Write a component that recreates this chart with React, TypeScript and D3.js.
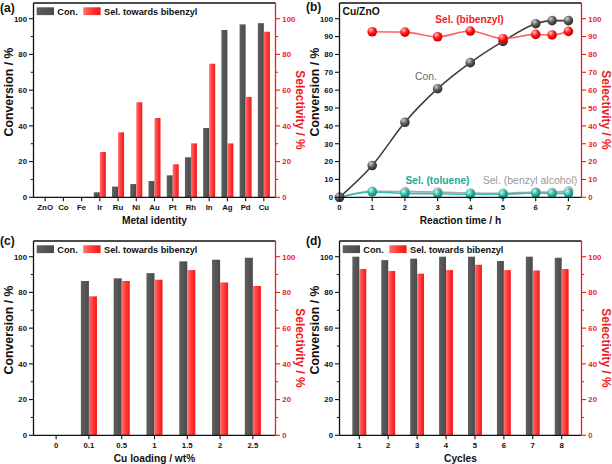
import React from 'react';
import * as d3 from 'd3';

// ---------- data ----------
const metals = ['ZnO', 'Co', 'Fe', 'Ir', 'Ru', 'Ni', 'Au', 'Pt', 'Rh', 'In', 'Ag', 'Pd', 'Cu'];
const metalCon = [0, 0, 0, 2.8, 6.0, 7.4, 9.1, 12.3, 22.4, 38.8, 93.7, 96.8, 97.5];
const metalSel = [0, 0, 0, 25.4, 36.4, 53.2, 44.4, 18.5, 30.2, 74.8, 30.2, 56.2, 92.7];

const times = [0, 1, 2, 3, 4, 5, 6, 6.5, 7];
const timeCon = [0, 17.8, 42.0, 60.8, 75.4, 87.3, 97.2, 98.9, 98.9];
const selTimes = [1, 2, 3, 4, 5, 6, 6.5, 7];
const timeSelBibenzyl = [92.7, 92.5, 89.9, 93.1, 88.8, 91.2, 90.9, 92.9];
const timeSelToluene = [0, 3.0, 2.2, 2.0, 1.7, 1.7, 2.4, 2.1, 2.2];
const timeSelAlcohol = [0, 3.3, 3.2, 3.0, 2.4, 2.2, 3.0, 2.8, 3.6];
const timeTicks = [0, 1, 2, 3, 4, 5, 6, 7];

const loadings = ['0', '0.1', '0.5', '1', '1.5', '2', '2.5'];
const loadCon = [0, 86.4, 87.9, 90.8, 97.4, 98.3, 99.4];
const loadSel = [0, 77.8, 86.4, 87.1, 92.5, 85.6, 83.6];

const cycles = ['1', '2', '3', '4', '5', '6', '7', '8'];
const cycleCon = [100, 98.1, 98.9, 100, 100, 97.6, 100, 99.4];
const cycleSel = [93.1, 92.0, 90.5, 92.5, 95.5, 92.5, 92.3, 93.1];

const barTicks = [0, 20, 40, 60, 80, 100];
const barMinor = [10, 30, 50, 70, 90];
const lineTicks = [0, 10, 20, 30, 40, 50, 60, 70, 80, 90, 100];

// ---------- style ----------
const FONT = "'Liberation Sans', Arial, sans-serif";
const RED = '#ee1c25';
const BLACK = '#111';

function Frame({ L, R, T, B }: any) {
  return (
    <g strokeWidth={1.3} fill="none">
      <line x1={L} x2={R} y1={T} y2={T} stroke={BLACK} />
      <line x1={L} x2={R} y1={B} y2={B} stroke={BLACK} />
      <line x1={L} x2={L} y1={T} y2={B} stroke={BLACK} />
      <line x1={R} x2={R} y1={T} y2={B} stroke={RED} />
    </g>
  );
}

function YAxes({ L, R, y, ticks, minor }: any) {
  return (
    <g fontFamily={FONT} fontWeight="bold" fontSize={7.8}>
      {ticks.map((t: number) => (
        <g key={'l' + t}>
          <line x1={L - 4.5} x2={L} y1={y(t)} y2={y(t)} stroke={BLACK} strokeWidth={1.1} />
          <text x={L - 6.5} y={y(t) + 2.8} textAnchor="end" fill={BLACK}>{t}</text>
          <line x1={R} x2={R + 4.5} y1={y(t)} y2={y(t)} stroke={RED} strokeWidth={1.1} />
          <text x={R + 6.8} y={y(t) + 2.8} textAnchor="start" fill={RED}>{t}</text>
        </g>
      ))}
      {minor.map((t: number) => (
        <g key={'m' + t}>
          <line x1={L - 2.7} x2={L} y1={y(t)} y2={y(t)} stroke={BLACK} strokeWidth={1} />
          <line x1={R} x2={R + 2.7} y1={y(t)} y2={y(t)} stroke={RED} strokeWidth={1} />
        </g>
      ))}
    </g>
  );
}

function Titles({ ox, oy, xTitle, label, labelY }: any) {
  return (
    <g fontFamily={FONT} fontWeight="bold">
      <text x={ox} y={labelY} fontSize={12} fill={BLACK}>{label}</text>
      <text transform={`translate(${ox + 13.4},${oy + 92}) rotate(-90)`} textAnchor="middle" fontSize={12.3} fill={BLACK}>Conversion / %</text>
      <text transform={`translate(${ox + 296.3},${oy + 110}) rotate(90)`} textAnchor="middle" fontSize={11.9} fill={RED}>Selectivity / %</text>
      <text x={ox + 154.5} y={oy + 223.5} textAnchor="middle" fontSize={10.2} fill={BLACK}>{xTitle}</text>
    </g>
  );
}

function Legend({ ox, oy }: any) {
  return (
    <g fontFamily={FONT} fontWeight="bold" fontSize={9.2} fill={BLACK}>
      <rect x={ox + 36.7} y={oy + 7.3} width={17.3} height={7.8} fill="url(#grayBar)" />
      <text x={ox + 57.3} y={oy + 14.6}>Con.</text>
      <rect x={ox + 83.3} y={oy + 7.3} width={17.3} height={7.8} fill="url(#redBar)" />
      <text x={ox + 104} y={oy + 14.6}>Sel. towards bibenzyl</text>
    </g>
  );
}

function BarPanel({ ox, oy, label, labelY, cats, con, sel, pad, barFrac, xTitle }: any) {
  const L = ox + 33.5, R = ox + 275.5, T = oy + 3, B = oy + 197.3;
  const x = d3.scaleLinear().domain([-pad, cats.length - 1 + pad]).range([L, R]);
  const y = d3.scaleLinear().domain([0, 100]).range([B, oy + 18.7]);
  const bw = (x(1) - x(0)) * barFrac;
  return (
    <g>
      {cats.map((c: string, i: number) => (
        <g key={c}>
          {con[i] > 0 && <rect x={x(i) - bw} y={y(con[i])} width={bw} height={B - y(con[i])} fill="url(#grayBar)" />}
          {sel[i] > 0 && <rect x={x(i)} y={y(sel[i])} width={bw} height={B - y(sel[i])} fill="url(#redBar)" />}
          <line x1={x(i)} x2={x(i)} y1={B} y2={B + 4} stroke={BLACK} strokeWidth={1.1} />
          <text x={x(i)} y={B + 12.8} textAnchor="middle" fontFamily={FONT} fontWeight="bold" fontSize={7.8} fill={BLACK}>{c}</text>
        </g>
      ))}
      <Frame L={L} R={R} T={T} B={B} />
      <YAxes L={L} R={R} y={y} ticks={barTicks} minor={barMinor} />
      <Legend ox={ox} oy={oy} />
      <Titles ox={ox} oy={oy} xTitle={xTitle} label={label} labelY={labelY} />
    </g>
  );
}

function Series({ xs, ys, x, y, line, grad, r }: any) {
  const pts = xs.map((v: number, i: number) => [x(v), y(ys[i])] as [number, number]);
  const path = d3.line().curve(d3.curveMonotoneX)(pts) || '';
  return (
    <g>
      <path d={path} fill="none" stroke={line} strokeWidth={1.6} />
      {pts.map((p: [number, number], i: number) => (
        <circle key={i} cx={p[0]} cy={p[1]} r={r} fill={`url(#${grad})`} />
      ))}
    </g>
  );
}

function LinePanel({ ox, oy }: any) {
  const L = ox + 33.5, R = ox + 275.5, T = oy + 3, B = oy + 197.3;
  const x = d3.scaleLinear().domain([0, 7.4]).range([L, R]);
  const y = d3.scaleLinear().domain([0, 100]).range([B, oy + 18.7]);
  return (
    <g>
      <Series xs={times} ys={timeSelAlcohol} x={x} y={y} line="#aaaaaa" grad="sphGray" r={4.8} />
      <Series xs={times} ys={timeSelToluene} x={x} y={y} line="#35bfae" grad="sphTeal" r={4.8} />
      <Series xs={times} ys={timeCon} x={x} y={y} line="#3c3c3c" grad="sphDark" r={4.8} />
      <Series xs={selTimes} ys={timeSelBibenzyl} x={x} y={y} line="#ff6464" grad="sphRed" r={4.8} />
      {timeTicks.map((t) => (
        <g key={t}>
          <line x1={x(t)} x2={x(t)} y1={B} y2={B + 4} stroke={BLACK} strokeWidth={1.1} />
          <text x={x(t)} y={B + 12.8} textAnchor="middle" fontFamily={FONT} fontWeight="bold" fontSize={7.8} fill={BLACK}>{t}</text>
        </g>
      ))}
      <Frame L={L} R={R} T={T} B={B} />
      <YAxes L={L} R={R} y={y} ticks={lineTicks} minor={[]} />
      <g fontFamily={FONT}>
        <text x={ox + 36.5} y={oy + 14.5} fontSize={10.3} fontWeight="bold" fill={BLACK}>Cu/ZnO</text>
        <text x={ox + 163.5} y={oy + 22.5} fontSize={10.2} fontWeight="bold" fill={RED} textAnchor="middle">Sel. (bibenzyl)</text>
        <text x={ox + 120} y={oy + 80} fontSize={10.4} fill="#666" textAnchor="middle">Con.</text>
        <text x={ox + 131.5} y={oy + 183.5} fontSize={10.2} fontWeight="bold" fill="#1aa898" textAnchor="middle">Sel. (toluene)</text>
        <text x={ox + 224} y={oy + 183.5} fontSize={10.5} fill="#999" textAnchor="middle">Sel. (benzyl alcohol)</text>
      </g>
      <Titles ox={ox} oy={oy} xTitle="Reaction time / h" label="(b)" labelY={oy + 11} />
    </g>
  );
}

function Sphere({ id, hi, base, dark }: any) {
  return (
    <radialGradient id={id} cx="0.38" cy="0.32" r="0.7" fx="0.35" fy="0.28">
      <stop offset="0" stopColor={hi} />
      <stop offset="0.55" stopColor={base} />
      <stop offset="1" stopColor={dark} />
    </radialGradient>
  );
}

export default function App() {
  return (
    <svg width={612} height={464} style={{ position: 'absolute', left: 0, top: 0, background: '#fff' }}>
      <defs>
        <linearGradient id="grayBar" x1="0" x2="1" y1="0" y2="0">
          <stop offset="0" stopColor="#5e5e5e" />
          <stop offset="0.5" stopColor="#555" />
          <stop offset="1" stopColor="#4a4a4a" />
        </linearGradient>
        <linearGradient id="redBar" x1="0" x2="1" y1="0" y2="0">
          <stop offset="0" stopColor="#ff7070" />
          <stop offset="0.5" stopColor="#ff3a3a" />
          <stop offset="1" stopColor="#f01818" />
        </linearGradient>
        <Sphere id="sphDark" hi="#d0d0d0" base="#555" dark="#2a2a2a" />
        <Sphere id="sphRed" hi="#ffc0c0" base="#ff1010" dark="#c00000" />
        <Sphere id="sphTeal" hi="#c8f5ee" base="#1fb5a3" dark="#0e8073" />
        <Sphere id="sphGray" hi="#f0f0f0" base="#aaa" dark="#7a7a7a" />
      </defs>
      <BarPanel ox={0} oy={0} label="(a)" labelY={11.5} cats={metals} con={metalCon} sel={metalSel}
        pad={0.64} barFrac={0.33} xTitle="Metal identity" />
      <LinePanel ox={306} oy={0} />
      <BarPanel ox={0} oy={238} label="(c)" labelY={244.5} cats={loadings} con={loadCon} sel={loadSel}
        pad={0.69} barFrac={0.245} xTitle="Cu loading / wt%" />
      <BarPanel ox={306} oy={238} label="(d)" labelY={244.5} cats={cycles} con={cycleCon} sel={cycleSel}
        pad={0.685} barFrac={0.24} xTitle="Cycles" />
    </svg>
  );
}
